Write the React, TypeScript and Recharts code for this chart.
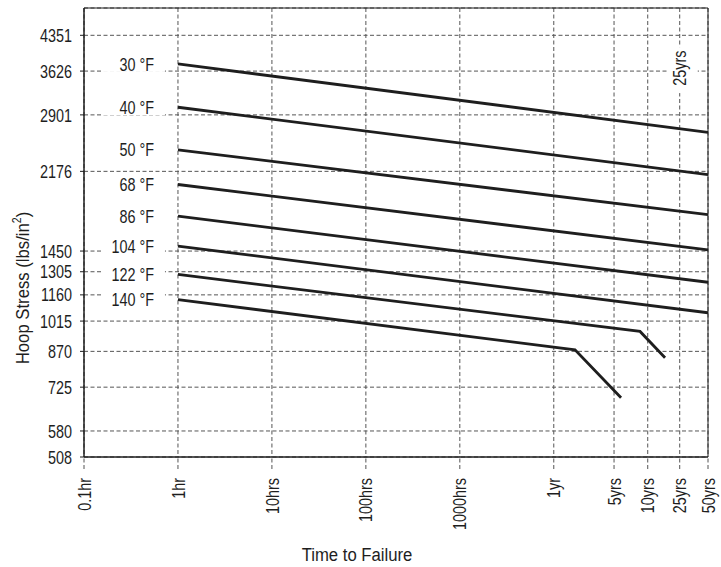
import React from "react";
import {
  LineChart,
  Line,
  XAxis,
  YAxis,
  CartesianGrid,
  ReferenceArea,
  ReferenceDot,
} from "recharts";

// ── Styling ──
const FONT = "'Liberation Sans', Arial, sans-serif";
const INK = "#1e1e1e";
const GRID = "#555";
const DASH = "4 2.5";
const NARROW = 0.8; // the original uses a condensed face

// ── Axis ticks (hours) ──
const X_TICKS = [0.1, 1, 10, 100, 1000, 10000, 43800, 100000, 219000, 438000];
const X_LABELS = ["0.1hr", "1hr", "10hrs", "100hrs", "1000hrs", "1yr", "5yrs", "10yrs", "25yrs", "50yrs"];
const Y_TICKS = [508, 580, 725, 870, 1015, 1160, 1305, 1450, 2176, 2901, 3626, 4351];

// ── Regression lines, one per temperature ──
const TEMPS = ["30 °F", "40 °F", "50 °F", "68 °F", "86 °F", "104 °F", "122 °F", "140 °F"];
const START_HOURS = 1;
const END_HOURS = 438000;
const STRESS_AT_1HR = [3761, 3016, 2428, 2035, 1732, 1487, 1287, 1132];
const STRESS_AT_50YRS = [2655, 2141, 1745, 1458, 1237, 1059];
// knee + end points for the hot lines
const KNEE_122 = [
  { h: 82800, s: 963 },
  { h: 152800, s: 842 },
];
const KNEE_140 = [
  { h: 16830, s: 877 },
  { h: 52000, s: 687 },
];

const series = TEMPS.map((name, i) => {
  const start = { h: START_HOURS, s: STRESS_AT_1HR[i] };
  if (i < STRESS_AT_50YRS.length) {
    return { name, data: [start, { h: END_HOURS, s: STRESS_AT_50YRS[i] }] };
  }
  return { name, data: [start, ...(name === "122 °F" ? KNEE_122 : KNEE_140)] };
});

// condensed text helper
function NText({ x, y, rotate = 0, anchor = "middle", size = 18, sx = NARROW, children }: any) {
  return (
    <text
      transform={`translate(${x}, ${y}) rotate(${rotate}) scale(${sx}, 1)`}
      textAnchor={anchor}
      dominantBaseline="central"
      fontSize={size}
      fontFamily={FONT}
      fill={INK}
    >
      {children}
    </text>
  );
}

// ── Custom ticks ──
function XTick({ x, y, payload }: any) {
  const idx = X_TICKS.indexOf(payload.value);
  return (
    <NText x={x} y={y} rotate={-90} anchor="end">
      {X_LABELS[idx]}
    </NText>
  );
}

function YTick({ x, y, payload }: any) {
  return (
    <NText x={x} y={y} anchor="end">
      {payload.value}
    </NText>
  );
}

function TempLabel(text: string) {
  return ({ cx, cy }: any) => (
    <g>
      <rect x={cx - 76} y={cy - 8} width={63} height={16} fill="#fff" />
      <NText x={cx - 24} y={cy} anchor="end">
        {text}
      </NText>
    </g>
  );
}

function InPlotYearLabel({ cx, cy }: any) {
  return (
    <g>
      <rect x={cx - 11} y={cy - 24} width={29} height={46} fill="#fff" />
      <NText x={cx} y={cy - 3} rotate={-90}>
        25yrs
      </NText>
    </g>
  );
}

export default function App() {
  return (
    <div style={{ position: "absolute", left: 0, top: 0, background: "#fff" }}>
      <LineChart width={721} height={567} margin={{ top: 8, right: 13, left: 0, bottom: 0 }}>
        <CartesianGrid stroke={GRID} strokeDasharray={DASH} />
        <XAxis
          type="number"
          dataKey="h"
          scale="log"
          domain={[0.1, 438000]}
          ticks={X_TICKS}
          interval={0}
          allowDataOverflow
          height={110}
          tickSize={12}
          tickMargin={9}
          tick={<XTick />}
          tickLine={{ stroke: GRID, strokeDasharray: DASH }}
          axisLine={{ stroke: INK }}
          label={{
            content: () => (
              <text
                transform="translate(357, 555) scale(0.88, 1)"
                textAnchor="middle"
                dominantBaseline="central"
                fontSize={19}
                fontFamily={FONT}
                fill={INK}
              >
                Time to Failure
              </text>
            ),
          }}
        />
        <YAxis
          type="number"
          dataKey="s"
          scale="log"
          domain={[508, 5000]}
          ticks={Y_TICKS}
          interval={0}
          allowDataOverflow
          width={84}
          tickSize={4}
          tickMargin={8}
          tick={<YTick />}
          tickLine={{ stroke: INK }}
          axisLine={{ stroke: INK }}
          label={{
            content: () => (
              <text
                transform="translate(23, 288) rotate(-90) scale(0.88, 1)"
                textAnchor="middle"
                dominantBaseline="central"
                fontSize={19}
                fontFamily={FONT}
                fill={INK}
              >
                Hoop Stress (lbs/in
                <tspan baselineShift="super" fontSize={12}>
                  2
                </tspan>
                )
              </text>
            ),
          }}
        />
        <ReferenceArea x1={0.1} x2={438000} y1={508} y2={5000} fill="none" stroke={INK} strokeWidth={1} />
        {series.map((s) => (
          <Line
            key={s.name}
            data={s.data}
            dataKey="s"
            type="linear"
            stroke={INK}
            strokeWidth={2.8}
            dot={false}
            isAnimationActive={false}
          />
        ))}
        {series.map((s, i) => (
          <ReferenceDot
            key={"lbl" + s.name}
            x={START_HOURS}
            y={STRESS_AT_1HR[i]}
            shape={TempLabel(s.name)}
          />
        ))}
        <ReferenceDot x={219000} y={3626} shape={InPlotYearLabel} />
      </LineChart>
    </div>
  );
}
